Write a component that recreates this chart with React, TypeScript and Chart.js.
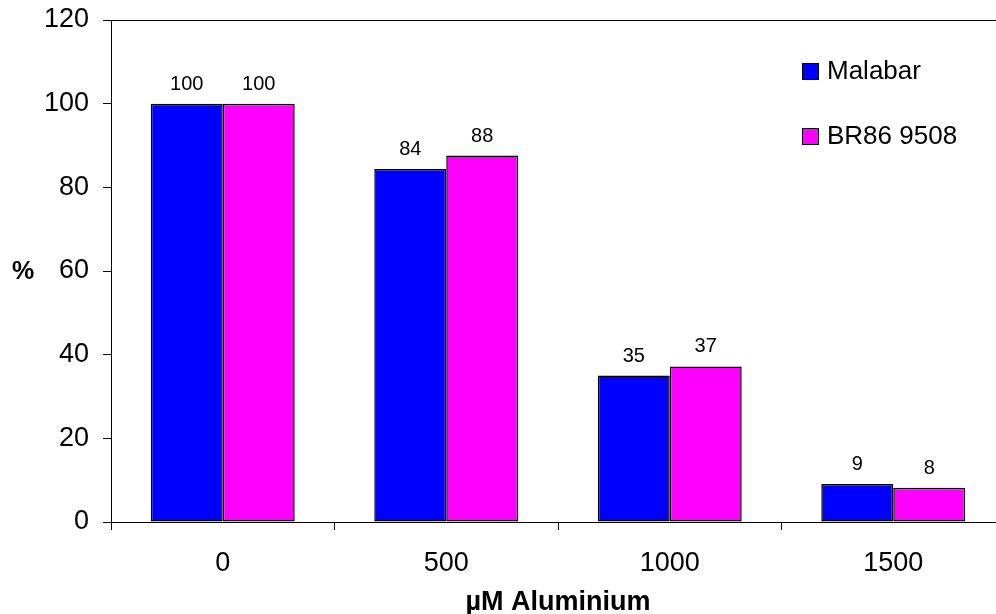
import React, { useEffect, useRef } from "react";
import { Chart, registerables } from "chart.js";

Chart.register(...registerables);

const categories = ["0", "500", "1000", "1500"];
const malabar = [100, 84.4, 35.0, 9.1];
const br86 = [100, 87.6, 37.2, 8.2];
const seriesNames = ["Malabar", "BR86 9508"];
const seriesColors = ["#0000FF", "#FF00FF"];
const yTicksMin = 0;
const yTicksMax = 120;
const yTickStep = 20;
const xTitle = "µM Aluminium";
const yTitle = "%";

const FONT = "'Liberation Sans', Arial, sans-serif";

const decorPlugin = {
  id: "decor",
  afterDatasetsDraw(chart: any) {
    const { ctx, chartArea } = chart;
    ctx.save();
    // frame
    ctx.strokeStyle = "#000";
    ctx.lineWidth = 1;
    ctx.strokeRect(
      Math.round(chartArea.left) + 0.5,
      Math.round(chartArea.top) + 0.5,
      Math.round(chartArea.right - chartArea.left),
      Math.round(chartArea.bottom - chartArea.top)
    );
    // value labels
    ctx.fillStyle = "#000";
    ctx.font = `20px ${FONT}`;
    ctx.textAlign = "center";
    ctx.textBaseline = "alphabetic";
    chart.data.datasets.forEach((ds: any, i: number) => {
      const meta = chart.getDatasetMeta(i);
      meta.data.forEach((bar: any, j: number) => {
        const v = ds.data[j];
        ctx.fillText(String(Math.round(v)), bar.x, bar.y - 14);
      });
    });
    // legend
    const lx = 802;
    const ly0 = 71;
    const ldy = 65;
    chart.data.datasets.forEach((ds: any, i: number) => {
      const cy = ly0 + i * ldy;
      ctx.fillStyle = ds.backgroundColor;
      ctx.fillRect(lx, cy - 8, 16, 16);
      ctx.strokeStyle = "#000";
      ctx.lineWidth = 1;
      ctx.strokeRect(lx + 0.5, cy - 7.5, 16, 16);
      ctx.fillStyle = "#000";
      ctx.font = `26px ${FONT}`;
      ctx.textAlign = "left";
      ctx.textBaseline = "middle";
      ctx.fillText(ds.label, lx + 25, cy + 1);
    });
    // axis titles
    ctx.font = `bold 27px ${FONT}`;
    ctx.textAlign = "center";
    ctx.textBaseline = "middle";
    ctx.fillText(xTitle, (chartArea.left + chartArea.right) / 2, 603);
    ctx.font = `bold 25px ${FONT}`;
    ctx.fillText(yTitle, 23, 272);
    ctx.restore();
  },
};

export default function App() {
  const ref = useRef<HTMLCanvasElement>(null);
  useEffect(() => {
    if (!ref.current) return;
    const chart = new Chart(ref.current, {
      type: "bar",
      data: {
        labels: categories,
        datasets: [
          {
            label: seriesNames[0],
            data: malabar,
            backgroundColor: seriesColors[0],
            borderColor: "#000",
            borderWidth: 1.5,
            borderSkipped: false,
            categoryPercentage: 0.644,
            barPercentage: 1,
          },
          {
            label: seriesNames[1],
            data: br86,
            backgroundColor: seriesColors[1],
            borderColor: "#000",
            borderWidth: 1.5,
            borderSkipped: false,
            categoryPercentage: 0.644,
            barPercentage: 1,
          },
        ],
      },
      options: {
        responsive: false,
        animation: false,
        layout: { padding: { left: 0, right: 15, top: 20, bottom: 0 } },
        plugins: {
          legend: { display: false },
          tooltip: { enabled: false },
          title: { display: false },
        },
        scales: {
          x: {
            afterFit(scale: any) {
              scale.height = 92;
              scale.paddingLeft = 0;
              scale.paddingRight = 0;
            },
            grid: {
              display: true,
              offset: true,
              drawOnChartArea: false,
              drawTicks: true,
              tickLength: 8,
              color: "#000",
            },
            border: { display: true, color: "#000", width: 1 },
            ticks: {
              color: "#000",
              font: { family: FONT, size: 27 },
              padding: 17,
              maxRotation: 0,
            },
          },
          y: {
            min: yTicksMin,
            max: yTicksMax,
            afterFit(scale: any) {
              scale.width = 111;
              scale.paddingTop = 0;
              scale.paddingBottom = 0;
            },
            grid: {
              display: true,
              drawOnChartArea: false,
              drawTicks: true,
              tickLength: 8,
              color: "#000",
            },
            border: { display: true, color: "#000", width: 1 },
            ticks: {
              stepSize: yTickStep,
              color: "#000",
              font: { family: FONT, size: 27 },
              padding: 14,
            },
          },
        },
      },
      plugins: [decorPlugin],
    });
    return () => chart.destroy();
  }, []);
  return (
    <div
      style={{
        position: "fixed",
        left: 0,
        top: 0,
        width: 996,
        height: 614,
        overflow: "hidden",
        background: "#fff",
      }}
    >
      <canvas ref={ref} width={1020} height={614} style={{ display: "block" }} />
    </div>
  );
}
